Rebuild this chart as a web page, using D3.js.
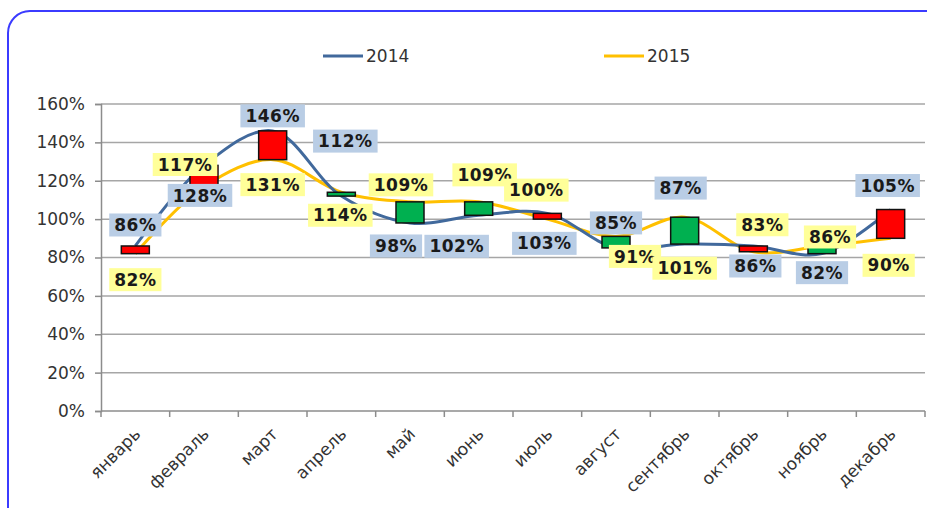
<!DOCTYPE html>
<html>
<head>
  <meta charset="utf-8">
  <title>2014 / 2015</title>
  <style>
    body { margin: 0; background: #fff; }
    text { font-family: "DejaVu Sans", Verdana, sans-serif; }
  </style>
</head>
<body>
<script src="https://cdn.jsdelivr.net/npm/d3@7"></script>
<script>
  // data
  var months = ["январь", "февраль", "март", "апрель", "май", "июнь",
                "июль", "август", "сентябрь", "октябрь", "ноябрь", "декабрь"];
  var series2014 = [86, 128, 146, 112, 98, 102, 103, 85, 87, 86, 82, 105];
  var series2015 = [82, 117, 131, 114, 109, 109, 100, 91, 101, 83, 86, 90];
  var yTicks = [0, 20, 40, 60, 80, 100, 120, 140, 160];

  // where each data label was dragged to (px, relative to its point)
  var nudge2014 = [[0, -21], [-4, 30], [0, -15], [4, -55], [-14, 23], [-22, 31],
                   [-3, 30], [0, -25], [-4, -56], [2, 20], [0, 19], [-3, -24]];
  var nudge2015 = [[0, 26], [-19, -22], [0, 25], [-1, 23], [-9, -17], [6, -27],
                   [-11, -29], [19, 20], [0, 51], [9, -27], [8, -9], [-2, 27]];

  var W = 927, H = 508;
  var margin = {top: 104, right: 2, bottom: 97, left: 101};
  var width = W - margin.left - margin.right;
  var height = H - margin.top - margin.bottom;

  var svg = d3.select("body").append("svg")
    .attr("width", W)
    .attr("height", H);

  // outer frame
  svg.append("rect")
    .attr("x", 8).attr("y", 11)
    .attr("width", 980).attr("height", 520)
    .attr("rx", 22).attr("ry", 22)
    .attr("fill", "none")
    .attr("stroke", "#3b3bff")
    .attr("stroke-width", 2);

  var g = svg.append("g")
    .attr("transform", "translate(" + margin.left + "," + margin.top + ")");

  var x = d3.scaleBand().domain(months).range([0, width]);
  var y = d3.scaleLinear().domain([0, 160]).range([height, 0]);
  var cx = function(i) { return x(months[i]) + x.bandwidth() / 2; };

  // grid
  g.append("g")
    .selectAll("line")
    .data(yTicks.slice(1))
    .enter().append("line")
    .attr("x1", 0).attr("x2", width)
    .attr("y1", d => y(d)).attr("y2", d => y(d))
    .attr("stroke", "#a6a6a6")
    .attr("stroke-width", 1.5);

  // y axis
  var yAxis = g.append("g")
    .call(d3.axisLeft(y).tickValues(yTicks).tickSize(6).tickPadding(10)
      .tickFormat(d => d + "%"));
  yAxis.select(".domain").attr("stroke", "#8c8c8c").attr("stroke-width", 1.5);
  yAxis.selectAll(".tick line").attr("stroke", "#8c8c8c").attr("stroke-width", 1.5);
  yAxis.selectAll("text")
    .style("font-size", "17px")
    .attr("fill", "#333");

  // x axis (ticks at category boundaries)
  var xAxis = g.append("g").attr("transform", "translate(0," + height + ")");
  xAxis.append("line")
    .attr("x1", 0).attr("x2", width)
    .attr("stroke", "#8c8c8c").attr("stroke-width", 1.5);
  xAxis.selectAll(".bt")
    .data(d3.range(months.length + 1))
    .enter().append("line")
    .attr("x1", i => i * x.step()).attr("x2", i => i * x.step())
    .attr("y1", 0).attr("y2", 6)
    .attr("stroke", "#8c8c8c").attr("stroke-width", 1.5);
  xAxis.selectAll(".lbl")
    .data(months)
    .enter().append("text")
    .attr("transform", (d, i) => "translate(" + (cx(i) + 2) + ",20) rotate(-45)")
    .attr("text-anchor", "end")
    .attr("dy", "0.35em")
    .style("font-size", "17px")
    .attr("fill", "#333")
    .text(d => d);

  // smoothed lines
  var line = d3.line()
    .x((d, i) => cx(i))
    .y(d => y(d))
    .curve(d3.curveCatmullRom);

  g.append("path").datum(series2015)
    .attr("d", line)
    .attr("fill", "none")
    .attr("stroke", "#ffc000")
    .attr("stroke-width", 3);

  g.append("path").datum(series2014)
    .attr("d", line)
    .attr("fill", "none")
    .attr("stroke", "#41699c")
    .attr("stroke-width", 3);

  // up/down bars
  var boxW = 28;
  g.selectAll(".ud")
    .data(months)
    .enter().append("rect")
    .attr("x", (d, i) => cx(i) - boxW / 2)
    .attr("y", (d, i) => y(Math.max(series2014[i], series2015[i])))
    .attr("width", boxW)
    .attr("height", (d, i) => Math.abs(y(series2014[i]) - y(series2015[i])))
    .attr("fill", (d, i) => series2015[i] > series2014[i] ? "#00b050" : "#ff0000")
    .attr("stroke", "#111")
    .attr("stroke-width", 1.5);

  // data labels
  function labels(values, nudge, bg) {
    var lg = g.append("g");
    values.forEach(function(v, i) {
      var px = cx(i) + nudge[i][0];
      var py = y(v) + nudge[i][1];
      var t = lg.append("text")
        .attr("x", px).attr("y", py)
        .attr("dy", "0.36em")
        .attr("text-anchor", "middle")
        .style("font-size", "17px")
        .style("font-weight", "bold")
        .style("letter-spacing", "0.5px")
        .attr("fill", "#1a1a1a")
        .text(v + "%");
      var bb = t.node().getBBox();
      lg.insert("rect", function() { return t.node(); })
        .attr("x", bb.x - 5).attr("y", py - 11.5)
        .attr("width", bb.width + 10).attr("height", 23)
        .attr("fill", bg);
    });
  }
  labels(series2014, nudge2014, "#b9cde5");
  labels(series2015, nudge2015, "#ffff99");

  // legend
  var legend = svg.append("g");
  [["2014", "#41699c", 323], ["2015", "#ffc000", 604]].forEach(function(l) {
    legend.append("line")
      .attr("x1", l[2]).attr("x2", l[2] + 40)
      .attr("y1", 56).attr("y2", 56)
      .attr("stroke", l[1]).attr("stroke-width", 3);
    legend.append("text")
      .attr("x", l[2] + 43).attr("y", 56)
      .attr("dy", "0.36em")
      .style("font-size", "17px")
      .attr("fill", "#333")
      .text(l[0]);
  });
</script>
</body>
</html>
